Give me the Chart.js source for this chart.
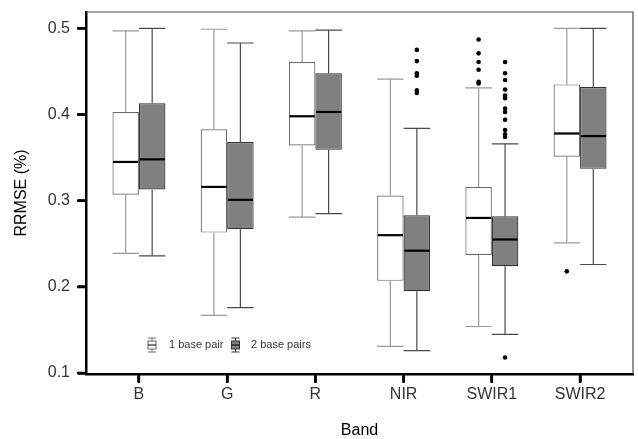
<!DOCTYPE html>
<html><head><meta charset="utf-8">
<script src="https://cdn.jsdelivr.net/npm/chart.js@4/dist/chart.umd.min.js"></script>
<style>html,body{margin:0;padding:0;background:#fff}canvas{display:block}</style>
</head><body>
<canvas id="c" width="638" height="439"></canvas>
<script>
// ---- data ----
const categories = ['B', 'G', 'R', 'NIR', 'SWIR1', 'SWIR2'];
const seriesLabels = ['1 base pair', '2 base pairs'];
const yTicks = [0.1, 0.2, 0.3, 0.4, 0.5];

const p1Lower  = [0.239, 0.167, 0.281, 0.131, 0.154, 0.251];
const p1Q1     = [0.307, 0.263, 0.364, 0.207, 0.237, 0.351];
const p1Median = [0.345, 0.316, 0.398, 0.260, 0.280, 0.378];
const p1Q3     = [0.403, 0.383, 0.461, 0.306, 0.316, 0.435];
const p1Upper  = [0.497, 0.499, 0.497, 0.441, 0.431, 0.500];
const p1Outliers = [[], [], [], [], [0.487, 0.471, 0.461, 0.452, 0.438, 0.436], [0.218]];

const p2Lower  = [0.236, 0.176, 0.285, 0.126, 0.145, 0.226];
const p2Q1     = [0.313, 0.267, 0.359, 0.195, 0.224, 0.337];
const p2Median = [0.348, 0.301, 0.403, 0.242, 0.255, 0.375];
const p2Q3     = [0.413, 0.368, 0.448, 0.283, 0.282, 0.432];
const p2Upper  = [0.500, 0.483, 0.498, 0.384, 0.366, 0.500];
const p2Outliers = [[], [], [], [0.475, 0.462, 0.448, 0.445, 0.428, 0.425],
  [0.461, 0.448, 0.440, 0.429, 0.422, 0.419, 0.407, 0.403, 0.394, 0.382, 0.377, 0.374, 0.118], []];

// ---- styles ----
const FONT = '"Liberation Sans", Arial, Helvetica, sans-serif';
const styles = [
  { fill: '#ffffff', border: '#6b6b6b', whisker: '#9a9a9a' },
  { fill: '#808080', border: '#333333', whisker: '#4a4a4a' }
];
const stats = [
  { lower: p1Lower, q1: p1Q1, med: p1Median, q3: p1Q3, upper: p1Upper, out: p1Outliers },
  { lower: p2Lower, q1: p2Q1, med: p2Median, q3: p2Q3, upper: p2Upper, out: p2Outliers }
];

const datasets = stats.map((s, d) => ({
  label: seriesLabels[d],
  data: categories.map((c, i) => ({ x: i + 1, y: [s.q1[i], s.q3[i]] })),
  backgroundColor: styles[d].fill,
  borderColor: styles[d].border,
  borderWidth: 1.2,
  borderSkipped: false,
  categoryPercentage: 0.6,
  barPercentage: 1.0
}));

function bars(chart, d) {
  return chart.getDatasetMeta(d).data;
}

const boxPlugin = {
  id: 'boxParts',
  beforeDatasetsDraw(chart) {
    const ctx = chart.ctx, y = chart.scales.y;
    ctx.save();
    stats.forEach((s, d) => {
      bars(chart, d).forEach((el, i) => {
        const {x, width} = el.getProps(['x', 'width'], true);
        ctx.strokeStyle = styles[d].whisker;
        ctx.lineWidth = 1.2;
        ctx.beginPath();
        ctx.moveTo(x, y.getPixelForValue(s.q3[i]));
        ctx.lineTo(x, y.getPixelForValue(s.upper[i]));
        ctx.moveTo(x - width / 2, y.getPixelForValue(s.upper[i]));
        ctx.lineTo(x + width / 2, y.getPixelForValue(s.upper[i]));
        ctx.moveTo(x, y.getPixelForValue(s.q1[i]));
        ctx.lineTo(x, y.getPixelForValue(s.lower[i]));
        ctx.moveTo(x - width / 2, y.getPixelForValue(s.lower[i]));
        ctx.lineTo(x + width / 2, y.getPixelForValue(s.lower[i]));
        ctx.stroke();
      });
    });
    ctx.restore();
  },
  afterDatasetsDraw(chart) {
    const ctx = chart.ctx, y = chart.scales.y;
    ctx.save();
    stats.forEach((s, d) => {
      bars(chart, d).forEach((el, i) => {
        const {x, width} = el.getProps(['x', 'width'], true);
        ctx.strokeStyle = '#000';
        ctx.lineWidth = 2.2;
        ctx.beginPath();
        const ym = y.getPixelForValue(s.med[i]);
        ctx.moveTo(x - width / 2 + 0.6, ym);
        ctx.lineTo(x + width / 2 - 0.6, ym);
        ctx.stroke();
        ctx.fillStyle = '#000';
        s.out[i].forEach(v => {
          ctx.beginPath();
          ctx.arc(x, y.getPixelForValue(v), 2.3, 0, Math.PI * 2);
          ctx.fill();
        });
      });
    });
    ctx.restore();
  },
  afterDraw(chart) {
    const ctx = chart.ctx, a = chart.chartArea;
    const xs = chart.scales.x, ys = chart.scales.y;
    ctx.save();
    // top and right panel border
    ctx.strokeStyle = '#4a4a4a';
    ctx.lineWidth = 1.2;
    ctx.beginPath();
    ctx.moveTo(a.left, a.top);
    ctx.lineTo(a.right, a.top);
    ctx.lineTo(a.right, a.bottom);
    ctx.stroke();
    // axis tick marks (from the scales' own ticks)
    ctx.strokeStyle = '#000';
    ctx.lineWidth = 2.5;
    ctx.beginPath();
    xs.ticks.forEach(t => {
      const px = xs.getPixelForValue(t.value);
      ctx.moveTo(px, a.bottom);
      ctx.lineTo(px, a.bottom + 9);
    });
    ys.ticks.forEach(t => {
      const py = ys.getPixelForValue(t.value);
      ctx.moveTo(a.left, py);
      ctx.lineTo(a.left - 9, py);
    });
    ctx.stroke();
    // legend
    const lx = 152, ly = 345;
    const items = [{ x: lx, tx: lx + 17 }, { x: lx + 83.5, tx: lx + 99 }];
    ctx.font = '11px ' + FONT;
    ctx.textBaseline = 'middle';
    ctx.textAlign = 'left';
    items.forEach((it, d) => {
      ctx.strokeStyle = styles[d].border;
      ctx.fillStyle = styles[d].fill;
      ctx.lineWidth = 1;
      ctx.beginPath();
      ctx.moveTo(it.x, ly - 7); ctx.lineTo(it.x, ly - 4);
      ctx.moveTo(it.x, ly + 4); ctx.lineTo(it.x, ly + 7);
      ctx.moveTo(it.x - 4, ly - 7); ctx.lineTo(it.x + 4, ly - 7);
      ctx.moveTo(it.x - 4, ly + 7); ctx.lineTo(it.x + 4, ly + 7);
      ctx.stroke();
      ctx.fillRect(it.x - 4, ly - 4, 8, 8);
      ctx.strokeRect(it.x - 4, ly - 4, 8, 8);
      ctx.strokeStyle = '#000';
      ctx.beginPath();
      ctx.moveTo(it.x - 4, ly); ctx.lineTo(it.x + 4, ly);
      ctx.stroke();
      ctx.fillStyle = '#333';
      ctx.fillText(seriesLabels[d], it.tx, ly);
    });
    ctx.restore();
  }
};

new Chart(document.getElementById('c'), {
  type: 'bar',
  data: { datasets },
  options: {
    responsive: false,
    animation: false,
    devicePixelRatio: 1,
    layout: { padding: { top: 12, right: 5, left: 0, bottom: 0 } },
    plugins: { legend: { display: false }, tooltip: { enabled: false } },
    scales: {
      x: {
        type: 'linear',
        min: 0.4, max: 6.6,
        offset: false,
        afterBuildTicks: s => { s.ticks = categories.map((c, i) => ({ value: i + 1 })); },
        afterFit: s => { s.height = 65; s.paddingLeft = 0; s.paddingRight = 0; },
        ticks: {
          callback: v => categories[v - 1],
          autoSkip: false, maxRotation: 0,
          color: '#333', padding: 3,
          font: { family: FONT, size: 16 }
        },
        grid: { offset: false, drawOnChartArea: false, drawTicks: true, tickLength: 8, tickWidth: 2.5, tickColor: '#000' },
        border: { display: true, color: '#000', width: 2.5 },
        title: { display: true, text: 'Band', color: '#000', font: { family: FONT, size: 16 }, padding: { top: 0, bottom: -1 } }
      },
      y: {
        min: 0.0989, max: 0.519,
        afterBuildTicks: s => { s.ticks = yTicks.map(v => ({ value: v })); },
        afterFit: s => { s.width = 86; s.paddingTop = 0; s.paddingBottom = 0; },
        ticks: {
          callback: v => v.toFixed(1),
          color: '#333', padding: 8,
          font: { family: FONT, size: 16 }
        },
        grid: { offset: false, drawOnChartArea: false, drawTicks: true, tickLength: 8, tickWidth: 2.5, tickColor: '#000' },
        border: { display: true, color: '#000', width: 2.5 },
        title: { display: true, text: 'RRMSE (%)', color: '#000', font: { family: FONT, size: 16 }, padding: { top: 12, bottom: 0 } }
      }
    }
  },
  plugins: [boxPlugin]
});
</script>
</body></html>
